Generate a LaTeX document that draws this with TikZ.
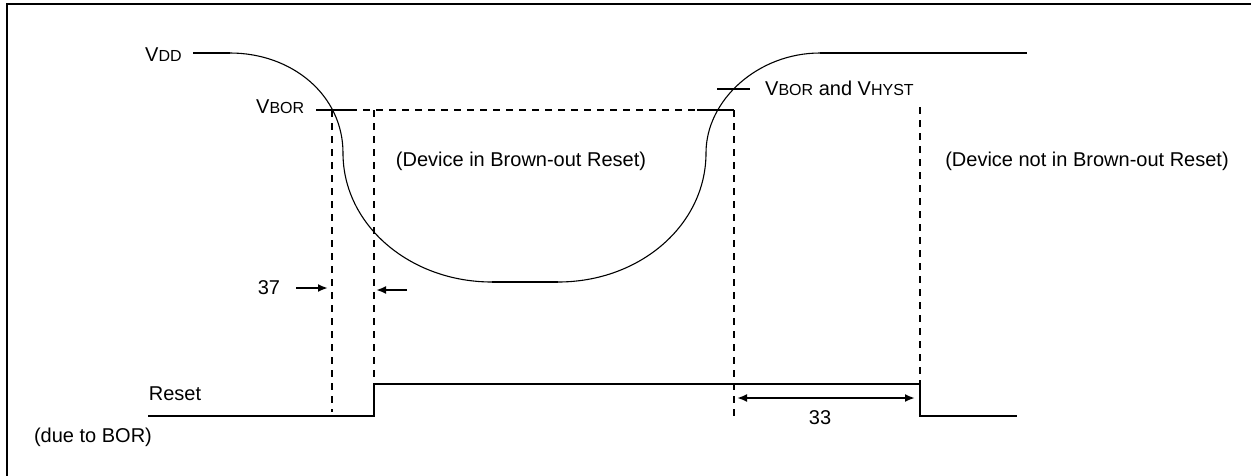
\documentclass[tikz,border=0pt]{standalone}
\usepackage{fontspec}
\setmainfont{Liberation Sans}
\usetikzlibrary{arrows.meta}
\newcommand\smallcap[1]{{\fontsize{16}{16}\selectfont #1}}
\begin{document}
\begin{tikzpicture}[x=1pt,y=-1pt,
  thinline/.style={line width=1.1pt},
  thickline/.style={line width=2pt},
  dashline/.style={line width=2pt, dash pattern=on 7pt off 6pt},
  lbl/.style={font=\fontsize{20}{24}\selectfont, inner sep=0pt},
  arr/.style={line width=2pt, -{Latex[length=10pt,width=8pt]}},
  darr/.style={line width=2pt, {Latex[length=10pt,width=8pt]}-{Latex[length=10pt,width=8pt]}},
]
\useasboundingbox (0,0) rectangle (1251,475);
% frame
\coordinate (fbl) at (7,480);
\coordinate (ftl) at (7,4);
\coordinate (ftr) at (1260,4);
\draw[line width=2pt] (fbl) -- (ftl) -- (ftr);

% labels
\node[lbl, anchor=base west] (vdd) at (145,61) {V\smallcap{DD}};
\node[lbl, anchor=base west] (vbor) at (256,113) {V\smallcap{BOR}};
\node[lbl, anchor=base west] (vhyst) at (765,95) {V\smallcap{BOR} and V\smallcap{HYST}};
\node[lbl] (devin) at (521,161) {(Device in Brown-out Reset)};
\node[lbl] (devnot) at (1087,161) {(Device not in Brown-out Reset)};
\node[lbl] (t37) at (269,288) {37};
\node[lbl] (t33) at (820,418) {33};
\node[lbl] (reset) at (175,394) {Reset};
\node[lbl] (dueto) at (93,437) {(due to BOR)};

% VDD waveform
\coordinate (v0) at (193,53);
\coordinate (v1) at (230,53);
\coordinate (v2) at (343,153);
\coordinate (v3) at (492,282);
\coordinate (v4) at (558,282);
\coordinate (v5) at (706,153);
\coordinate (v6) at (820,53);
\coordinate (v7) at (1027,53);
\draw[thickline] (v0) -- (v1);
\draw[thinline] (v1) .. controls (292,53) and (343,95) .. (v2)
  .. controls (343,225) and (410,282) .. (v3);
\draw[thickline] (v3) -- (v4);
\draw[thinline] (v4) .. controls (640,282) and (706,225) .. (v5)
  .. controls (706,100) and (758,53) .. (v6);
\draw[thickline] (v6) -- (v7);

% VBOR level
\coordinate (b0) at (316,110);
\coordinate (b1) at (350,110);
\coordinate (b2) at (697,110);
\coordinate (b3) at (734,110);
\draw[thickline] (b0) -- (b1);
\draw[dashline] (b1) -- (b2);
\draw[thickline] (b2) -- (b3);
\coordinate (h0) at (717,89);
\coordinate (h1) at (750,89);
\draw[thickline] (h0) -- (h1);

% vertical dashed markers
\coordinate (d1t) at (332,110); \coordinate (d1b) at (332,412);
\coordinate (d2t) at (374,110); \coordinate (d2b) at (374,418);
\coordinate (d3t) at (734,110); \coordinate (d3b) at (734,420);
\coordinate (d4t) at (920,107); \coordinate (d4b) at (920,383);
\draw[dashline] (d1t) -- (d1b);
\draw[dashline] (d2t) -- (d2b);
\draw[dashline] (d3t) -- (d3b);
\draw[dashline] (d4t) -- (d4b);

% Reset waveform
\coordinate (r0) at (148,416);
\coordinate (r1) at (374,416);
\coordinate (r2) at (374,384);
\coordinate (r3) at (920,384);
\coordinate (r4) at (920,416);
\coordinate (r5) at (1017,416);
\draw[thickline] (r0) -- (r1) -- (r2) -- (r3) -- (r4) -- (r5);

% timing arrows
\coordinate (a0) at (296,288); \coordinate (a1) at (328,288);
\coordinate (a2) at (407,290); \coordinate (a3) at (376,290);
\draw[arr] (a0) -- (a1);
\draw[arr] (a2) -- (a3);
\coordinate (c0) at (737,398); \coordinate (c1) at (915,398);
\draw[darr] (c0) -- (c1);
\end{tikzpicture}
\end{document}
